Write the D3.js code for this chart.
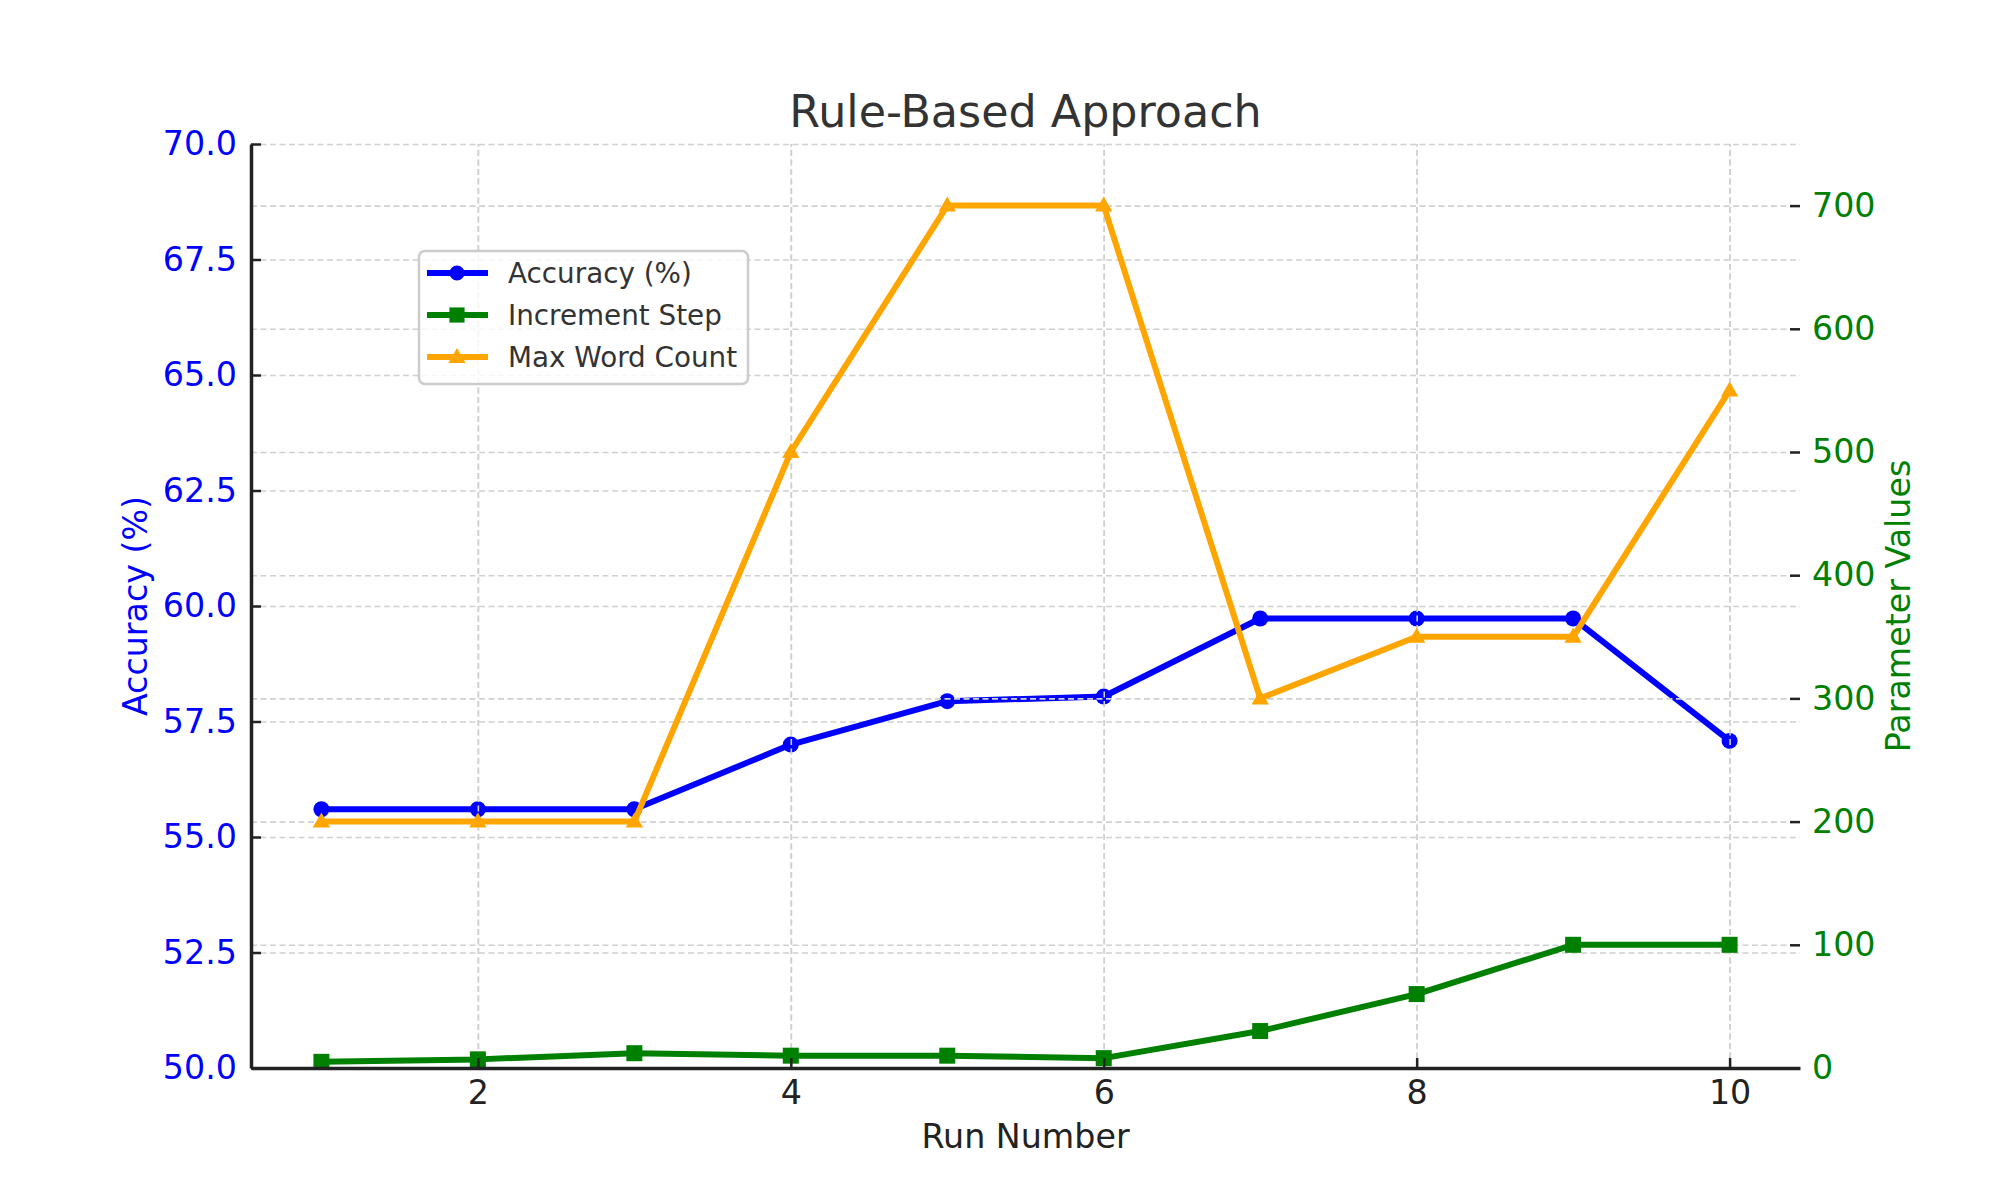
<!DOCTYPE html>
<html>
<head>
<meta charset="utf-8">
<script src="https://cdn.jsdelivr.net/npm/d3@7"></script>
<style>
  body { margin: 0; background: #fff; }
  svg text { font-family: "DejaVu Sans", sans-serif; }
</style>
</head>
<body>
<svg id="chart" width="2000" height="1200"></svg>
<script>
// data
var runs = [1, 2, 3, 4, 5, 6, 7, 8, 9, 10];
var accuracy = [55.6, 55.6, 55.6, 57.0, 57.94, 58.04, 59.73, 59.73, 59.73, 57.08];
var incrementStep = [5, 7, 12, 10, 10, 8, 30, 60, 100, 100];
var maxWordCount = [200, 200, 200, 500, 700, 700, 300, 350, 350, 550];
var xTicks = [2, 4, 6, 8, 10];
var leftTicks = [50, 52.5, 55, 57.5, 60, 62.5, 65, 67.5, 70];
var rightTicks = [0, 100, 200, 300, 400, 500, 600, 700];
var legendLabels = ["Accuracy (%)", "Increment Step", "Max Word Count"];

var svg = d3.select("#chart");
// plot box (note: "top" is taken by window.top, so use other names)
var plotLeft = 251, plotRight = 1800, plotTop = 144, plotBottom = 1068;

var x = d3.scaleLinear().domain([0.55, 10.45]).range([plotLeft, plotRight]);
var yLeft = d3.scaleLinear().domain([50, 70]).range([plotBottom, plotTop]);
var yRight = d3.scaleLinear().domain([0, 750]).range([plotBottom, plotTop]);

var gridColor = "#d0d0d0";

function styleGrid(g) {
  g.select(".domain").remove();
  g.selectAll("line")
    .attr("stroke", gridColor)
    .attr("stroke-width", 1.6)
    .attr("stroke-dasharray", "6,3.5");
}

// grid of the first axes
svg.append("g")
  .attr("transform", `translate(${plotLeft},0)`)
  .call(d3.axisLeft(yLeft).tickValues(leftTicks).tickSize(-(plotRight - plotLeft)).tickFormat(""))
  .call(styleGrid);
svg.append("g")
  .attr("transform", `translate(0,${plotBottom})`)
  .call(d3.axisBottom(x).tickValues(xTicks).tickSize(-(plotBottom - plotTop)).tickFormat(""))
  .call(styleGrid);

// accuracy line
var accLine = d3.line().x((d, i) => x(runs[i])).y(d => yLeft(d));
svg.append("path")
  .datum(accuracy)
  .attr("d", accLine)
  .attr("fill", "none")
  .attr("stroke", "#0000ff")
  .attr("stroke-width", 6)
  .attr("stroke-linejoin", "round");
svg.append("g").selectAll("circle")
  .data(accuracy)
  .join("circle")
  .attr("cx", (d, i) => x(runs[i]))
  .attr("cy", d => yLeft(d))
  .attr("r", 8)
  .attr("fill", "#0000ff");

// grid of the twin axes (drawn over the first one)
svg.append("g")
  .attr("transform", `translate(${plotLeft},0)`)
  .call(d3.axisLeft(yRight).tickValues(rightTicks).tickSize(-(plotRight - plotLeft)).tickFormat(""))
  .call(styleGrid);
svg.append("g")
  .attr("transform", `translate(0,${plotBottom})`)
  .call(d3.axisBottom(x).tickValues(xTicks).tickSize(-(plotBottom - plotTop)).tickFormat(""))
  .call(styleGrid);

// increment step
var rightLine = d3.line().x((d, i) => x(runs[i])).y(d => yRight(d));
svg.append("path")
  .datum(incrementStep)
  .attr("d", rightLine)
  .attr("fill", "none")
  .attr("stroke", "#008000")
  .attr("stroke-width", 6)
  .attr("stroke-linejoin", "round");
svg.append("g").selectAll("rect")
  .data(incrementStep)
  .join("rect")
  .attr("x", (d, i) => x(runs[i]) - 8)
  .attr("y", d => yRight(d) - 8)
  .attr("width", 16)
  .attr("height", 16)
  .attr("fill", "#008000");

// max word count
var tri = d3.symbol().type(d3.symbolTriangle).size(130);
svg.append("path")
  .datum(maxWordCount)
  .attr("d", rightLine)
  .attr("fill", "none")
  .attr("stroke", "#ffa500")
  .attr("stroke-width", 6)
  .attr("stroke-linejoin", "round");
svg.append("g").selectAll("path")
  .data(maxWordCount)
  .join("path")
  .attr("d", tri)
  .attr("transform", (d, i) => `translate(${x(runs[i])},${yRight(d) + 1})`)
  .attr("fill", "#ffa500");

// axes
var axisColor = "#222";
var gl = svg.append("g")
  .attr("transform", `translate(${plotLeft},0)`)
  .call(d3.axisLeft(yLeft).tickValues(leftTicks).tickSize(-10).tickSizeOuter(0)
    .tickPadding(14).tickFormat(d3.format(".1f")));
gl.selectAll("text").attr("fill", "#0000ff").style("font-size", "33.3px");

var gb = svg.append("g")
  .attr("transform", `translate(0,${plotBottom})`)
  .call(d3.axisBottom(x).tickValues(xTicks).tickSize(-10).tickSizeOuter(0).tickPadding(12));
gb.selectAll("text").attr("fill", axisColor).style("font-size", "33.3px");

var gr = svg.append("g")
  .attr("transform", `translate(${plotRight},0)`)
  .call(d3.axisRight(yRight).tickValues(rightTicks).tickSize(-10).tickPadding(12));
gr.select(".domain").remove();
gr.selectAll("text").attr("fill", "#008000").style("font-size", "33.3px");

[gl, gb, gr].forEach(g => {
  g.selectAll(".domain").attr("stroke", axisColor).attr("stroke-width", 3.5);
  g.selectAll(".tick line").attr("stroke", axisColor).attr("stroke-width", 2.5);
});

// titles
svg.append("text")
  .attr("x", (plotLeft + plotRight) / 2)
  .attr("y", 127)
  .attr("text-anchor", "middle")
  .attr("fill", "#333")
  .style("font-size", "44.4px")
  .text("Rule-Based Approach");

svg.append("text")
  .attr("x", (plotLeft + plotRight) / 2)
  .attr("y", 1148)
  .attr("text-anchor", "middle")
  .attr("fill", axisColor)
  .style("font-size", "33.3px")
  .text("Run Number");

svg.append("text")
  .attr("transform", `translate(147,${(plotTop + plotBottom) / 2}) rotate(-90)`)
  .attr("text-anchor", "middle")
  .attr("fill", "#0000ff")
  .style("font-size", "33.3px")
  .text("Accuracy (%)");

svg.append("text")
  .attr("transform", `translate(1910,${(plotTop + plotBottom) / 2}) rotate(-90)`)
  .attr("text-anchor", "middle")
  .attr("fill", "#008000")
  .style("font-size", "33.3px")
  .text("Parameter Values");

// legend
var legend = svg.append("g").attr("transform", "translate(419,251)");
legend.append("rect")
  .attr("width", 329)
  .attr("height", 133)
  .attr("rx", 6)
  .attr("fill", "#fff")
  .attr("fill-opacity", 0.8)
  .attr("stroke", "#cccccc")
  .attr("stroke-width", 2.5);

var legendColors = ["#0000ff", "#008000", "#ffa500"];
var legendShapes = [d3.symbolCircle, d3.symbolSquare, d3.symbolTriangle];
var legendSizes = [180, 230, 130];
legendLabels.forEach((label, i) => {
  var row = legend.append("g").attr("transform", `translate(0,${22 + i * 42})`);
  row.append("line")
    .attr("x1", 8).attr("x2", 69)
    .attr("stroke", legendColors[i])
    .attr("stroke-width", 6);
  row.append("path")
    .attr("d", d3.symbol().type(legendShapes[i]).size(legendSizes[i]))
    .attr("transform", `translate(38,${i == 2 ? 1 : 0})`)
    .attr("fill", legendColors[i]);
  row.append("text")
    .attr("x", 89)
    .attr("dy", "0.35em")
    .attr("fill", "#333")
    .style("font-size", "27.8px")
    .text(label);
});
</script>
</body>
</html>
